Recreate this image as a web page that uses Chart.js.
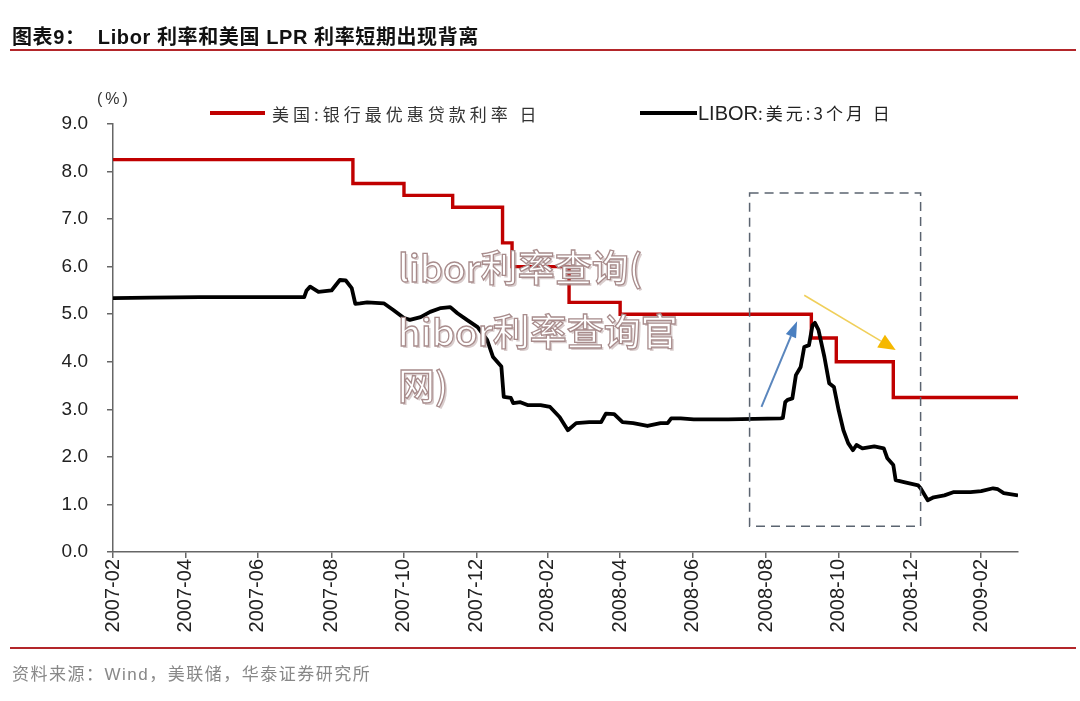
<!DOCTYPE html>
<html>
<head>
<meta charset="utf-8">
<script src="https://cdn.jsdelivr.net/npm/chart.js@4.4.1/dist/chart.umd.min.js"></script>
<style>
  html, body { margin: 0; padding: 0; background: #fff; }
  #page { position: relative; width: 1080px; height: 701px; overflow: hidden; font-family: "Liberation Sans", "Noto Sans CJK SC", sans-serif; }
  #chart { position: absolute; left: 0; top: 0; }
  .abs { position: absolute; white-space: nowrap; }
  .rule { position: absolute; left: 10px; width: 1066px; height: 2px; background: #b3262a; }
  .wm { position: absolute; left: 398px; font-family: "Noto Sans CJK SC", sans-serif; font-weight: 500; font-size: 37px; line-height: 40px;
        color: #fff; -webkit-text-stroke: 1.3px #a88c8c; text-shadow: 2px 2px 0 rgba(160,130,130,0.4); white-space: nowrap; z-index: 5; }
</style>
</head>
<body>
<div id="page">
  <canvas id="chart" width="1080" height="701"></canvas>

  <div class="abs" style="left:12px;top:21px;font-size:20px;font-weight:700;color:#111;letter-spacing:0.6px;">图表9：&nbsp; Libor 利率和美国 LPR 利率短期出现背离</div>
  <div class="rule" style="top:49px;"></div>

  <div class="abs" style="left:97px;top:90px;font-size:16px;color:#333;letter-spacing:3px;">(%)</div>

  <div class="abs" style="left:210px;top:111px;width:55px;height:4px;background:#c00000;"></div>
  <div class="abs" style="left:272px;top:101px;font-size:17px;color:#333;letter-spacing:4px;font-family:'Noto Sans CJK SC',sans-serif;">美国:银行最优惠贷款利率 日</div>
  <div class="abs" style="left:640px;top:111px;width:57px;height:4px;background:#000;"></div>
  <div class="abs" style="left:698px;top:100px;font-size:20px;color:#222;"><span>LIBOR</span><span style="font-size:17px;letter-spacing:3px;font-family:'Noto Sans CJK SC',sans-serif;">:美元:3个月 日</span></div>

  <div class="rule" style="top:647px;"></div>
  <div class="abs" style="left:12px;top:660px;font-size:17px;color:#888;letter-spacing:1.5px;">资料来源：Wind，美联储，华泰证券研究所</div>

  <div class="wm" style="top:246px;">libor利率查询(</div>
  <div class="wm" style="top:310px;">hibor利率查询官</div>
  <div class="wm" style="top:364px;">网)</div>
</div>

<script>
// 美国:银行最优惠贷款利率（调整日 → 新利率）
const primeDates = ['2007-02-28', '2007-09-18', '2007-10-31', '2007-12-11', '2008-01-22', '2008-01-30',
  '2008-03-18', '2008-04-30', '2008-10-08', '2008-10-29', '2008-12-16', '2009-03-31'];
const primeValues = [8.25, 7.75, 7.50, 7.25, 6.50, 6.00, 5.25, 5.00, 4.50, 4.00, 3.25, 3.25];

// LIBOR:美元:3个月
const liborDates = ['2007-02-28', '2007-03-31', '2007-05-12', '2007-06-23', '2007-08-08', '2007-08-10', '2007-08-13',
  '2007-08-20', '2007-08-31', '2007-09-07', '2007-09-12', '2007-09-17', '2007-09-20', '2007-09-24', '2007-09-30',
  '2007-10-14', '2007-10-22', '2007-10-31', '2007-11-05', '2007-11-14', '2007-11-22', '2007-12-01', '2007-12-09',
  '2007-12-15', '2007-12-23', '2008-01-01', '2008-01-09', '2008-01-14', '2008-01-21', '2008-01-23', '2008-01-29',
  '2008-01-31', '2008-02-06', '2008-02-12', '2008-02-23', '2008-03-02', '2008-03-10', '2008-03-17', '2008-03-24',
  '2008-04-04', '2008-04-14', '2008-04-18', '2008-04-25', '2008-05-02', '2008-05-11', '2008-05-23', '2008-06-03',
  '2008-06-09', '2008-06-12', '2008-06-20', '2008-07-01', '2008-07-30', '2008-09-12', '2008-09-14', '2008-09-16',
  '2008-09-18', '2008-09-22', '2008-09-25', '2008-09-29', '2008-10-02', '2008-10-06', '2008-10-09', '2008-10-11',
  '2008-10-14', '2008-10-19', '2008-10-23', '2008-10-27', '2008-10-31', '2008-11-04', '2008-11-08', '2008-11-12',
  '2008-11-15', '2008-11-20', '2008-11-30', '2008-12-08', '2008-12-11', '2008-12-16', '2008-12-18', '2008-12-25',
  '2009-01-06', '2009-01-08', '2009-01-14', '2009-01-19', '2009-01-28', '2009-02-05', '2009-02-19', '2009-02-28',
  '2009-03-10', '2009-03-14', '2009-03-19', '2009-03-31'];
const liborValues = [5.34, 5.35, 5.36, 5.36, 5.36, 5.50, 5.58,
  5.47, 5.50, 5.72, 5.71, 5.55, 5.22, 5.23, 5.25,
  5.23, 5.09, 4.92, 4.88, 4.94, 5.05, 5.13, 5.15,
  5.02, 4.88, 4.73, 4.46, 4.10, 3.90, 3.26, 3.24,
  3.13, 3.15, 3.09, 3.09, 3.05, 2.84, 2.56, 2.71,
  2.73, 2.73, 2.91, 2.90, 2.73, 2.71, 2.65, 2.71,
  2.71, 2.81, 2.81, 2.79, 2.79, 2.81, 2.82, 3.15,
  3.20, 3.23, 3.72, 3.89, 4.31, 4.35, 4.77, 4.82,
  4.67, 4.10, 3.55, 3.47, 2.98, 2.56, 2.29, 2.14,
  2.25, 2.18, 2.22, 2.18, 1.97, 1.83, 1.51, 1.47,
  1.40, 1.34, 1.09, 1.15, 1.19, 1.26, 1.26, 1.28,
  1.34, 1.32, 1.24, 1.19];

// x 轴刻度（月末）
const tickDates = ['2007-02-28', '2007-04-30', '2007-06-30', '2007-08-31', '2007-10-31', '2007-12-31', '2008-02-29',
  '2008-04-30', '2008-06-30', '2008-08-31', '2008-10-31', '2008-12-31', '2009-02-28'];
const tickLabels = ['2007-02', '2007-04', '2007-06', '2007-08', '2007-10', '2007-12', '2008-02',
  '2008-04', '2008-06', '2008-08', '2008-10', '2008-12', '2009-02'];
const yTicks = [0, 1, 2, 3, 4, 5, 6, 7, 8, 9];

// 标注：虚线框、蓝色/黄色箭头（数据坐标）
const boxDates = ['2008-08-17', '2009-01-08'];
const boxValues = [0.54, 7.55];
const blueArrowDates = ['2008-08-27', '2008-09-26'];
const blueArrowValues = [3.05, 4.85];
const yellowArrowDates = ['2008-10-02', '2008-12-18'];
const yellowArrowValues = [5.40, 4.25];

const startDate = '2007-02-28';
const endDate = '2009-03-31';
const dayOf = s => Math.round((Date.parse(s) - Date.parse(startDate)) / 864e5);
const toPts = (ds, vs) => ds.map((d, i) => ({ x: dayOf(d), y: vs[i] }));

function arrow(ctx, x1, y1, x2, y2, lineColor, headColor, lw, hl, hw) {
  const a = Math.atan2(y2 - y1, x2 - x1);
  const bx = x2 - hl * Math.cos(a), by = y2 - hl * Math.sin(a);
  ctx.strokeStyle = lineColor;
  ctx.lineWidth = lw;
  ctx.beginPath(); ctx.moveTo(x1, y1); ctx.lineTo(bx, by); ctx.stroke();
  ctx.fillStyle = headColor;
  ctx.beginPath();
  ctx.moveTo(x2, y2);
  ctx.lineTo(bx + hw / 2 * Math.sin(a), by - hw / 2 * Math.cos(a));
  ctx.lineTo(bx - hw / 2 * Math.sin(a), by + hw / 2 * Math.cos(a));
  ctx.closePath(); ctx.fill();
}

const notes = {
  id: 'notes',
  afterDatasetsDraw(chart) {
    const { ctx, scales: { x, y } } = chart;
    ctx.save();
    const bx1 = x.getPixelForValue(dayOf(boxDates[0])), bx2 = x.getPixelForValue(dayOf(boxDates[1]));
    const by1 = y.getPixelForValue(boxValues[1]), by2 = y.getPixelForValue(boxValues[0]);
    ctx.setLineDash([9, 6]);
    ctx.strokeStyle = '#5b6470';
    ctx.lineWidth = 1.5;
    ctx.strokeRect(bx1, by1, bx2 - bx1, by2 - by1);
    ctx.setLineDash([]);
    arrow(ctx,
      x.getPixelForValue(dayOf(blueArrowDates[0])), y.getPixelForValue(blueArrowValues[0]),
      x.getPixelForValue(dayOf(blueArrowDates[1])), y.getPixelForValue(blueArrowValues[1]),
      '#5a86bd', '#4a7fc0', 2, 16, 11);
    arrow(ctx,
      x.getPixelForValue(dayOf(yellowArrowDates[0])), y.getPixelForValue(yellowArrowValues[0]),
      x.getPixelForValue(dayOf(yellowArrowDates[1])), y.getPixelForValue(yellowArrowValues[1]),
      '#f0cf5a', '#f5b800', 1.6, 17, 15);
    ctx.restore();
  }
};

new Chart(document.getElementById('chart'), {
  type: 'line',
  data: {
    datasets: [
      {
        label: 'LIBOR:美元:3个月 日',
        data: toPts(liborDates, liborValues),
        borderColor: '#000',
        borderWidth: 3.8,
        borderJoinStyle: 'round',
        pointRadius: 0,
        tension: 0,
        order: 0
      },
      {
        label: '美国:银行最优惠贷款利率 日',
        data: toPts(primeDates, primeValues),
        borderColor: '#c00000',
        borderWidth: 3.4,
        stepped: 'before',
        pointRadius: 0,
        order: 1
      }
    ]
  },
  options: {
    responsive: false,
    animation: false,
    devicePixelRatio: 1,
    layout: { padding: { left: 0, top: 124, right: 62, bottom: 0 } },
    plugins: { legend: { display: false }, tooltip: { enabled: false } },
    scales: {
      x: {
        type: 'linear',
        min: 0,
        max: dayOf(endDate),
        afterBuildTicks: s => { s.ticks = tickDates.map(d => ({ value: dayOf(d) })); },
        afterFit: s => { s.height = 149; },
        grid: { drawOnChartArea: false, drawTicks: true, tickLength: 6, color: '#666', lineWidth: 1.5 },
        border: { display: true, color: '#666', width: 1.5 },
        ticks: {
          autoSkip: false, minRotation: 90, maxRotation: 90, padding: 1,
          color: '#222', font: { family: 'Liberation Sans', size: 20 },
          callback: (v, i) => tickLabels[i]
        }
      },
      y: {
        min: 0,
        max: 9,
        afterBuildTicks: s => { s.ticks = yTicks.map(v => ({ value: v })); },
        afterFit: s => { s.width = 113; },
        grid: { drawOnChartArea: false, drawTicks: true, tickLength: 6, color: '#666', lineWidth: 1.5 },
        border: { display: true, color: '#666', width: 1.5 },
        ticks: {
          padding: 19, color: '#222', font: { family: 'Liberation Sans', size: 19 },
          callback: v => Number(v).toFixed(1)
        }
      }
    }
  },
  plugins: [notes]
});
</script>
</body>
</html>
